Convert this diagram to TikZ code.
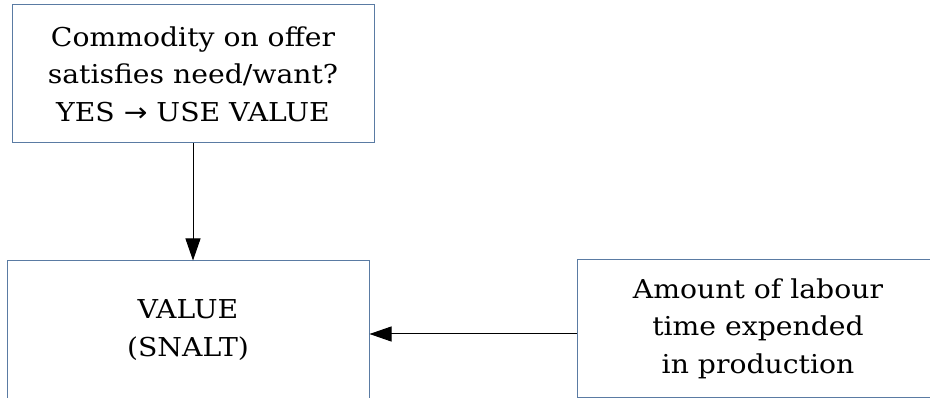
\documentclass[tikz,border=0pt]{standalone}
\usepackage{fontspec}
\setmainfont[FakeStretch=1.087]{DejaVu Serif}
\newfontfamily\symfont[FakeStretch=1.087]{DejaVu Sans}
\usetikzlibrary{arrows.meta}
\definecolor{boxline}{HTML}{5A7BA3}
\begin{document}
\begin{tikzpicture}[x=1pt,y=-1pt,
  box/.style={draw=boxline,line width=1pt,fill=white,rectangle,inner sep=0pt,
    minimum width=362pt,minimum height=138pt,align=center,
    font=\fontsize{26}{37.5}\selectfont},
  conn/.style={draw=black,line width=1pt,-{Triangle[length=22pt,width=15pt]}}]
\useasboundingbox (0,0) rectangle (930,398);
\clip (0,0) rectangle (930,398);
\node[box] (q) at (193,74) {Commodity on offer\\satisfies need/want?\\YES {\symfont →} USE VALUE};
\node[box] (v) at (188,330) {VALUE\\(SNALT)};
\node[box] (l) at (758,328.5) {Amount of labour\\time expended\\in production};
\draw[conn] (q.south -| 193,0) -- (v.north -| 193,0);
\draw[conn] (l.west |- 0,334) -- (v.east |- 0,334);
\end{tikzpicture}
\end{document}
